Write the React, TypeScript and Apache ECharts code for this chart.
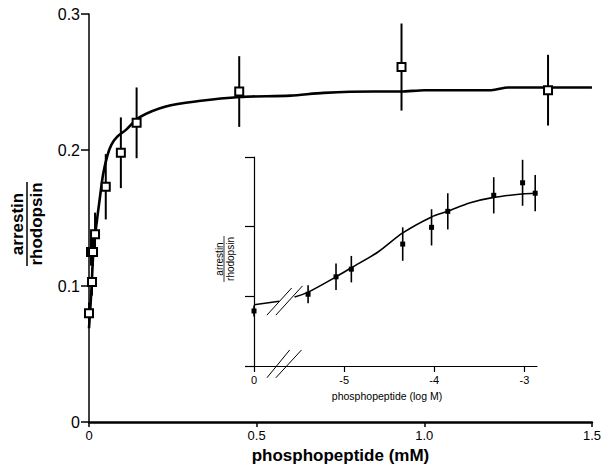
import React, { useEffect, useRef } from 'react';
import * as echarts from 'echarts';

// Main panel: phosphopeptide (mM) vs arrestin/rhodopsin
const mainX = [0, 0.009, 0.006, 0.012, 0.018, 0.05, 0.095, 0.142, 0.448, 0.932, 1.369];
const mainY = [0.080, 0.103, 0.125, 0.125, 0.138, 0.173, 0.198, 0.220, 0.243, 0.261, 0.244];
const mainErr = [0.008, 0.010, 0.010, 0.010, 0.016, 0.024, 0.026, 0.026, 0.026, 0.032, 0.026];

const mainFitX = [0, 0.005, 0.008, 0.013, 0.022, 0.032, 0.042, 0.055, 0.067, 0.085, 0.111, 0.15, 0.229, 0.327, 0.45, 0.6, 0.7, 0.85, 0.93, 1.0, 1.2, 1.25, 1.5];
const mainFitY = [0.069, 0.088, 0.101, 0.125, 0.145, 0.164, 0.182, 0.196, 0.204, 0.210, 0.215, 0.224, 0.232, 0.236, 0.239, 0.240, 0.242, 0.243, 0.243, 0.244, 0.244, 0.246, 0.246];

const mainXTicks = [0, 0.5, 1.0, 1.5];

// Inset: log M (control plotted at -6, labelled "0")
const insetX = [-6, -5.40, -5.09, -4.92, -4.35, -4.03, -3.85, -3.34, -3.02, -2.88];
const insetY = [0.079, 0.103, 0.128, 0.139, 0.175, 0.199, 0.222, 0.245, 0.263, 0.248];
const insetErr = [0.008, 0.013, 0.019, 0.019, 0.024, 0.026, 0.026, 0.026, 0.033, 0.026];

const insetFit1X = [-6, -5.72];
const insetFit1Y = [0.088, 0.093];
const insetFit2X = [-5.55, -5.40, -5.09, -4.92, -4.62, -4.35, -4.03, -3.85, -3.61, -3.34, -3.02, -2.88];
const insetFit2Y = [0.099, 0.106, 0.128, 0.141, 0.164, 0.191, 0.214, 0.222, 0.234, 0.242, 0.247, 0.248];

const insetXTicks = [-6, -5, -4, -3];
const insetXTickLabels = ['0', '-5', '-4', '-3'];

// axis-break marks (data coords of inset)
const breakAxis = [
  [[-5.857, -0.017], [-5.604, 0.023]],
  [[-5.758, -0.017], [-5.473, 0.023]],
];
const breakCurve = [
  [[-5.857, 0.073], [-5.582, 0.112]],
  [[-5.758, 0.073], [-5.462, 0.115]],
];

const FONT = '"Liberation Sans", Arial, Helvetica, sans-serif';

function errRender(params: any, api: any) {
  const lo = api.coord([api.value(0), api.value(1)]);
  const hi = api.coord([api.value(0), api.value(2)]);
  return {
    type: 'line',
    shape: { x1: lo[0], y1: lo[1], x2: hi[0], y2: hi[1] },
    style: { stroke: '#000', lineWidth: params.seriesIndex === 1 ? 2 : 1.6 },
  };
}

export default function App() {
  const ref = useRef<HTMLDivElement>(null);
  useEffect(() => {
    if (!ref.current) return;
    const chart = echarts.init(ref.current, undefined, { renderer: 'svg' });
    const breakSeries = [...breakAxis, ...breakCurve].map((seg) => ({
      type: 'line',
      xAxisIndex: 1,
      yAxisIndex: 1,
      data: seg,
      symbol: 'none',
      clip: false,
      lineStyle: { color: '#000', width: 1 },
      silent: true,
      z: 5,
    }));
    chart.setOption({
      animation: false,
      backgroundColor: '#fff',
      grid: [
        { left: 89, top: 14, width: 508, height: 411 },
        { left: 254, top: 157, width: 283, height: 209 },
      ],
      xAxis: [
        {
          type: 'value', gridIndex: 0, min: 0, max: 1.5, interval: 0.5,
          axisLine: { lineStyle: { color: '#000', width: 2.5 } },
          axisTick: { show: true, length: 5, lineStyle: { color: '#000', width: 1.5 } },
          axisLabel: {
            color: '#000', fontSize: 13, fontFamily: FONT, margin: 7,
            formatter: (v: number) => (v === 0 ? '0' : v.toFixed(1)),
            customValues: mainXTicks,
          },
          splitLine: { show: false },
          name: 'phosphopeptide (mM)', nameLocation: 'middle', nameGap: 24,
          nameTextStyle: { color: '#000', fontSize: 17, fontWeight: 'bold', fontFamily: FONT },
        },
        {
          type: 'value', gridIndex: 1, min: -6, max: -2.86,
          axisLine: { onZero: false, lineStyle: { color: '#000', width: 1.2 } },
          axisTick: { show: true, length: 6, customValues: insetXTicks, lineStyle: { color: '#000', width: 1.2 } },
          axisLabel: {
            color: '#000', fontSize: 11, fontFamily: FONT, margin: 8,
            customValues: insetXTicks,
            formatter: (v: number) => insetXTickLabels[insetXTicks.indexOf(Math.round(v))] ?? '',
          },
          splitLine: { show: false },
        },
      ],
      yAxis: [
        {
          type: 'value', gridIndex: 0, min: 0, max: 0.3, interval: 0.1,
          axisLine: { show: true, lineStyle: { color: '#000', width: 1.5 } },
          axisTick: { show: true, length: 8, lineStyle: { color: '#000', width: 1.5 } },
          axisLabel: {
            color: '#000', fontSize: 16, fontFamily: FONT, margin: 9,
            formatter: (v: number) => (v === 0 ? '0' : v.toFixed(1)),
          },
          splitLine: { show: false },
        },
        {
          type: 'value', gridIndex: 1, min: 0, max: 0.3, interval: 0.1,
          axisLine: { show: true, onZero: false, lineStyle: { color: '#000', width: 1.2 } },
          axisTick: { show: true, length: 9, lineStyle: { color: '#000', width: 1.2 } },
          axisLabel: { show: false },
          splitLine: { show: false },
        },
      ],
      graphic: [
        {
          type: 'group', x: 27, y: 224, rotation: Math.PI / 2,
          children: [
            { type: 'text', x: 0, y: -1, style: { text: 'arrestin', font: `bold 17px ${FONT}`, fill: '#000', textAlign: 'center', textVerticalAlign: 'bottom' } },
            { type: 'line', shape: { x1: -42, y1: 0, x2: 42, y2: 0 }, style: { stroke: '#000', lineWidth: 1.5 } },
            { type: 'text', x: 0, y: 1, style: { text: 'rhodopsin', font: `bold 17px ${FONT}`, fill: '#000', textAlign: 'center', textVerticalAlign: 'top' } },
          ],
        },
        {
          type: 'group', x: 224, y: 259, rotation: Math.PI / 2,
          children: [
            { type: 'text', x: 0, y: 0, style: { text: 'arrestin', font: `10px ${FONT}`, fill: '#000', textAlign: 'center', textVerticalAlign: 'bottom' } },
            { type: 'line', shape: { x1: -23, y1: 0, x2: 23, y2: 0 }, style: { stroke: '#000', lineWidth: 0.8 } },
            { type: 'text', x: 0, y: 1, style: { text: 'rhodopsin', font: `10px ${FONT}`, fill: '#000', textAlign: 'center', textVerticalAlign: 'top' } },
          ],
        },
        {
          type: 'text', x: 387, y: 396,
          style: { text: 'phosphopeptide (log M)', font: `10.5px ${FONT}`, fill: '#000', textAlign: 'center', textVerticalAlign: 'middle' },
        },
      ],
      series: [
        {
          type: 'line', xAxisIndex: 0, yAxisIndex: 0,
          data: mainFitX.map((x, i) => [x, mainFitY[i]]),
          symbol: 'none', smooth: 0.3,
          lineStyle: { color: '#000', width: 2.6 }, z: 2, silent: true,
        },
        {
          type: 'custom', xAxisIndex: 0, yAxisIndex: 0,
          data: mainX.map((x, i) => [x, mainY[i] - mainErr[i], mainY[i] + mainErr[i]]),
          renderItem: errRender, encode: { x: 0, y: [1, 2] }, z: 3, silent: true,
        },
        {
          type: 'scatter', xAxisIndex: 0, yAxisIndex: 0,
          data: mainX.map((x, i) => [x, mainY[i]]),
          symbol: 'rect', symbolSize: 8,
          itemStyle: { color: '#fff', borderColor: '#000', borderWidth: 2, opacity: 1 }, z: 4, silent: true,
        },
        {
          type: 'line', xAxisIndex: 1, yAxisIndex: 1,
          data: insetFit1X.map((x, i) => [x, insetFit1Y[i]]),
          symbol: 'none', lineStyle: { color: '#000', width: 1.6 }, z: 2, silent: true,
        },
        {
          type: 'line', xAxisIndex: 1, yAxisIndex: 1,
          data: insetFit2X.map((x, i) => [x, insetFit2Y[i]]),
          symbol: 'none', smooth: 0.3, clip: false,
          lineStyle: { color: '#000', width: 1.6 }, z: 2, silent: true,
        },
        {
          type: 'custom', xAxisIndex: 1, yAxisIndex: 1,
          data: insetX.map((x, i) => [x, insetY[i] - insetErr[i], insetY[i] + insetErr[i]]),
          renderItem: errRender, encode: { x: 0, y: [1, 2] }, z: 3, silent: true, clip: false,
        },
        {
          type: 'scatter', xAxisIndex: 1, yAxisIndex: 1,
          data: insetX.map((x, i) => [x, insetY[i]]),
          symbol: 'rect', symbolSize: 5, clip: false,
          itemStyle: { color: '#000', opacity: 1 }, z: 4, silent: true,
        },
        ...breakSeries,
      ],
    });
    return () => chart.dispose();
  }, []);
  return (
    <div
      ref={ref}
      style={{ position: 'fixed', left: 0, top: 0, width: 604, height: 469, background: '#fff' }}
    />
  );
}
